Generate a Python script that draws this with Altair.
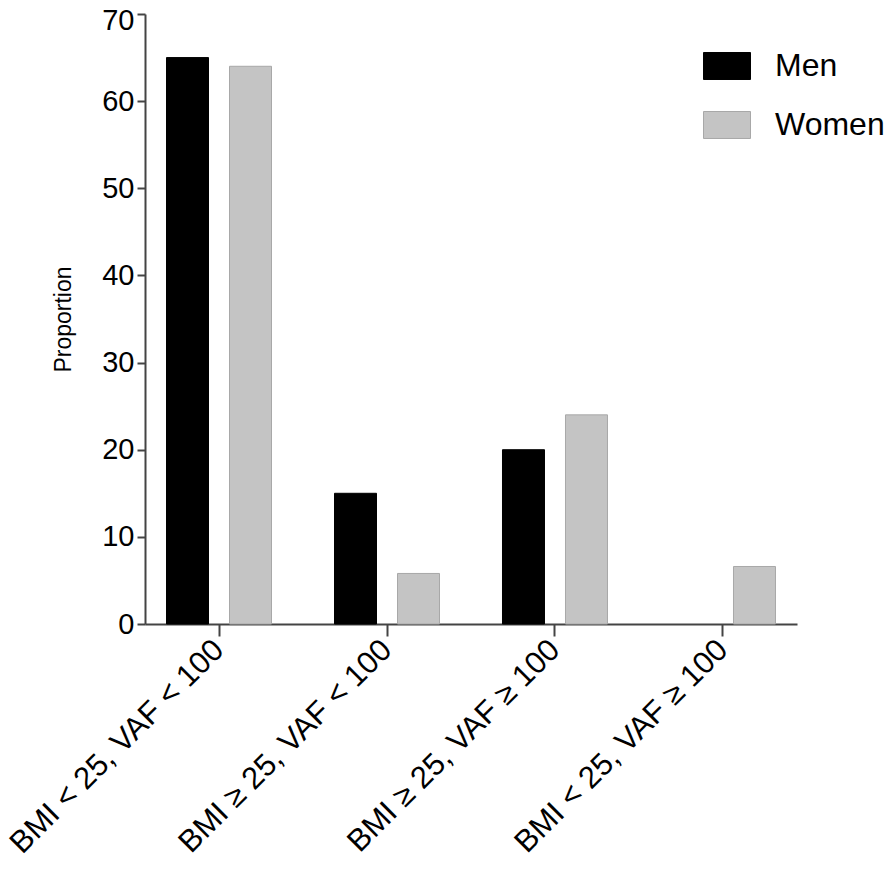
import altair as alt
import pandas as pd

categories = ["BMI < 25, VAF < 100", "BMI ≥ 25, VAF < 100", "BMI ≥ 25, VAF ≥ 100", "BMI < 25, VAF ≥ 100"]
groups = ["Men", "Women"]
men = [65, 15, 20, 0]
women = [64, 5.8, 24, 6.6]
y_ticks = [0, 10, 20, 30, 40, 50, 60, 70]

rows = []
for c, m, w in zip(categories, men, women):
    rows.append({"category": c, "sex": "Men", "value": m})
    rows.append({"category": c, "sex": "Women", "value": w})
df = pd.DataFrame(rows)

FONT = "Liberation Sans"
AX = "#444444"

chart = alt.Chart(df).transform_filter("datum.value > 0").mark_bar(strokeWidth=1).encode(
    x=alt.X(
        "category:N",
        sort=categories,
        scale=alt.Scale(paddingInner=0.375, paddingOuter=0.128),
        axis=alt.Axis(
            title=None,
            labelAngle=-45,
            labelAlign="right",
            labelBaseline="middle",
            labelFontSize=31,
            labelFont=FONT,
            labelColor="#000000",
            labelPadding=9,
            tickSize=12,
            tickWidth=2,
            tickColor=AX,
            domainColor=AX,
            domainWidth=2,
            labelLimit=0,
        ),
    ),
    xOffset=alt.XOffset("sex:N", sort=groups, scale=alt.Scale(paddingInner=1 / 3, paddingOuter=0)),
    y=alt.Y(
        "value:Q",
        scale=alt.Scale(domain=[0, 70], nice=False),
        axis=alt.Axis(
            title="Proportion",
            titleFontSize=23,
            titleFont=FONT,
            titleFontWeight="normal",
            titleColor="#000000",
            titlePadding=26,
            values=y_ticks,
            labelFontSize=29,
            labelFont=FONT,
            labelColor="#000000",
            labelPadding=3,
            labelOffset=alt.condition("datum.value == 70", alt.value(6), alt.value(0)),
            tickSize=8,
            tickWidth=2,
            tickColor=AX,
            domainColor=AX,
            domainWidth=2,
            grid=False,
        ),
    ),
    fill=alt.Fill(
        "sex:N",
        sort=groups,
        scale=alt.Scale(domain=groups, range=["#000000", "#c4c4c4"]),
        legend=alt.Legend(
            title=None,
            orient="none",
            legendX=558,
            legendY=28,
            symbolType="M-1,-0.574H1V0.574H-1Z",
            symbolSize=2209,
            symbolStrokeWidth=1,
            labelFontSize=32,
            labelFont=FONT,
            labelColor="#000000",
            labelOffset=24,
            rowPadding=19,
            padding=0,
        ),
    ),
    stroke=alt.Stroke(
        "sex:N",
        sort=groups,
        scale=alt.Scale(domain=groups, range=["#000000", "#a8a8a8"]),
        legend=None,
    ),
).properties(
    width=652,
    height=610,
    autosize=alt.AutoSizeParams(type="none"),
    padding={"left": 137, "top": 6, "right": 88, "bottom": 240},
).configure(background="white").configure_view(strokeWidth=0, stroke=None)

chart.save("out.html", embed_options={"renderer": "svg", "actions": False})
